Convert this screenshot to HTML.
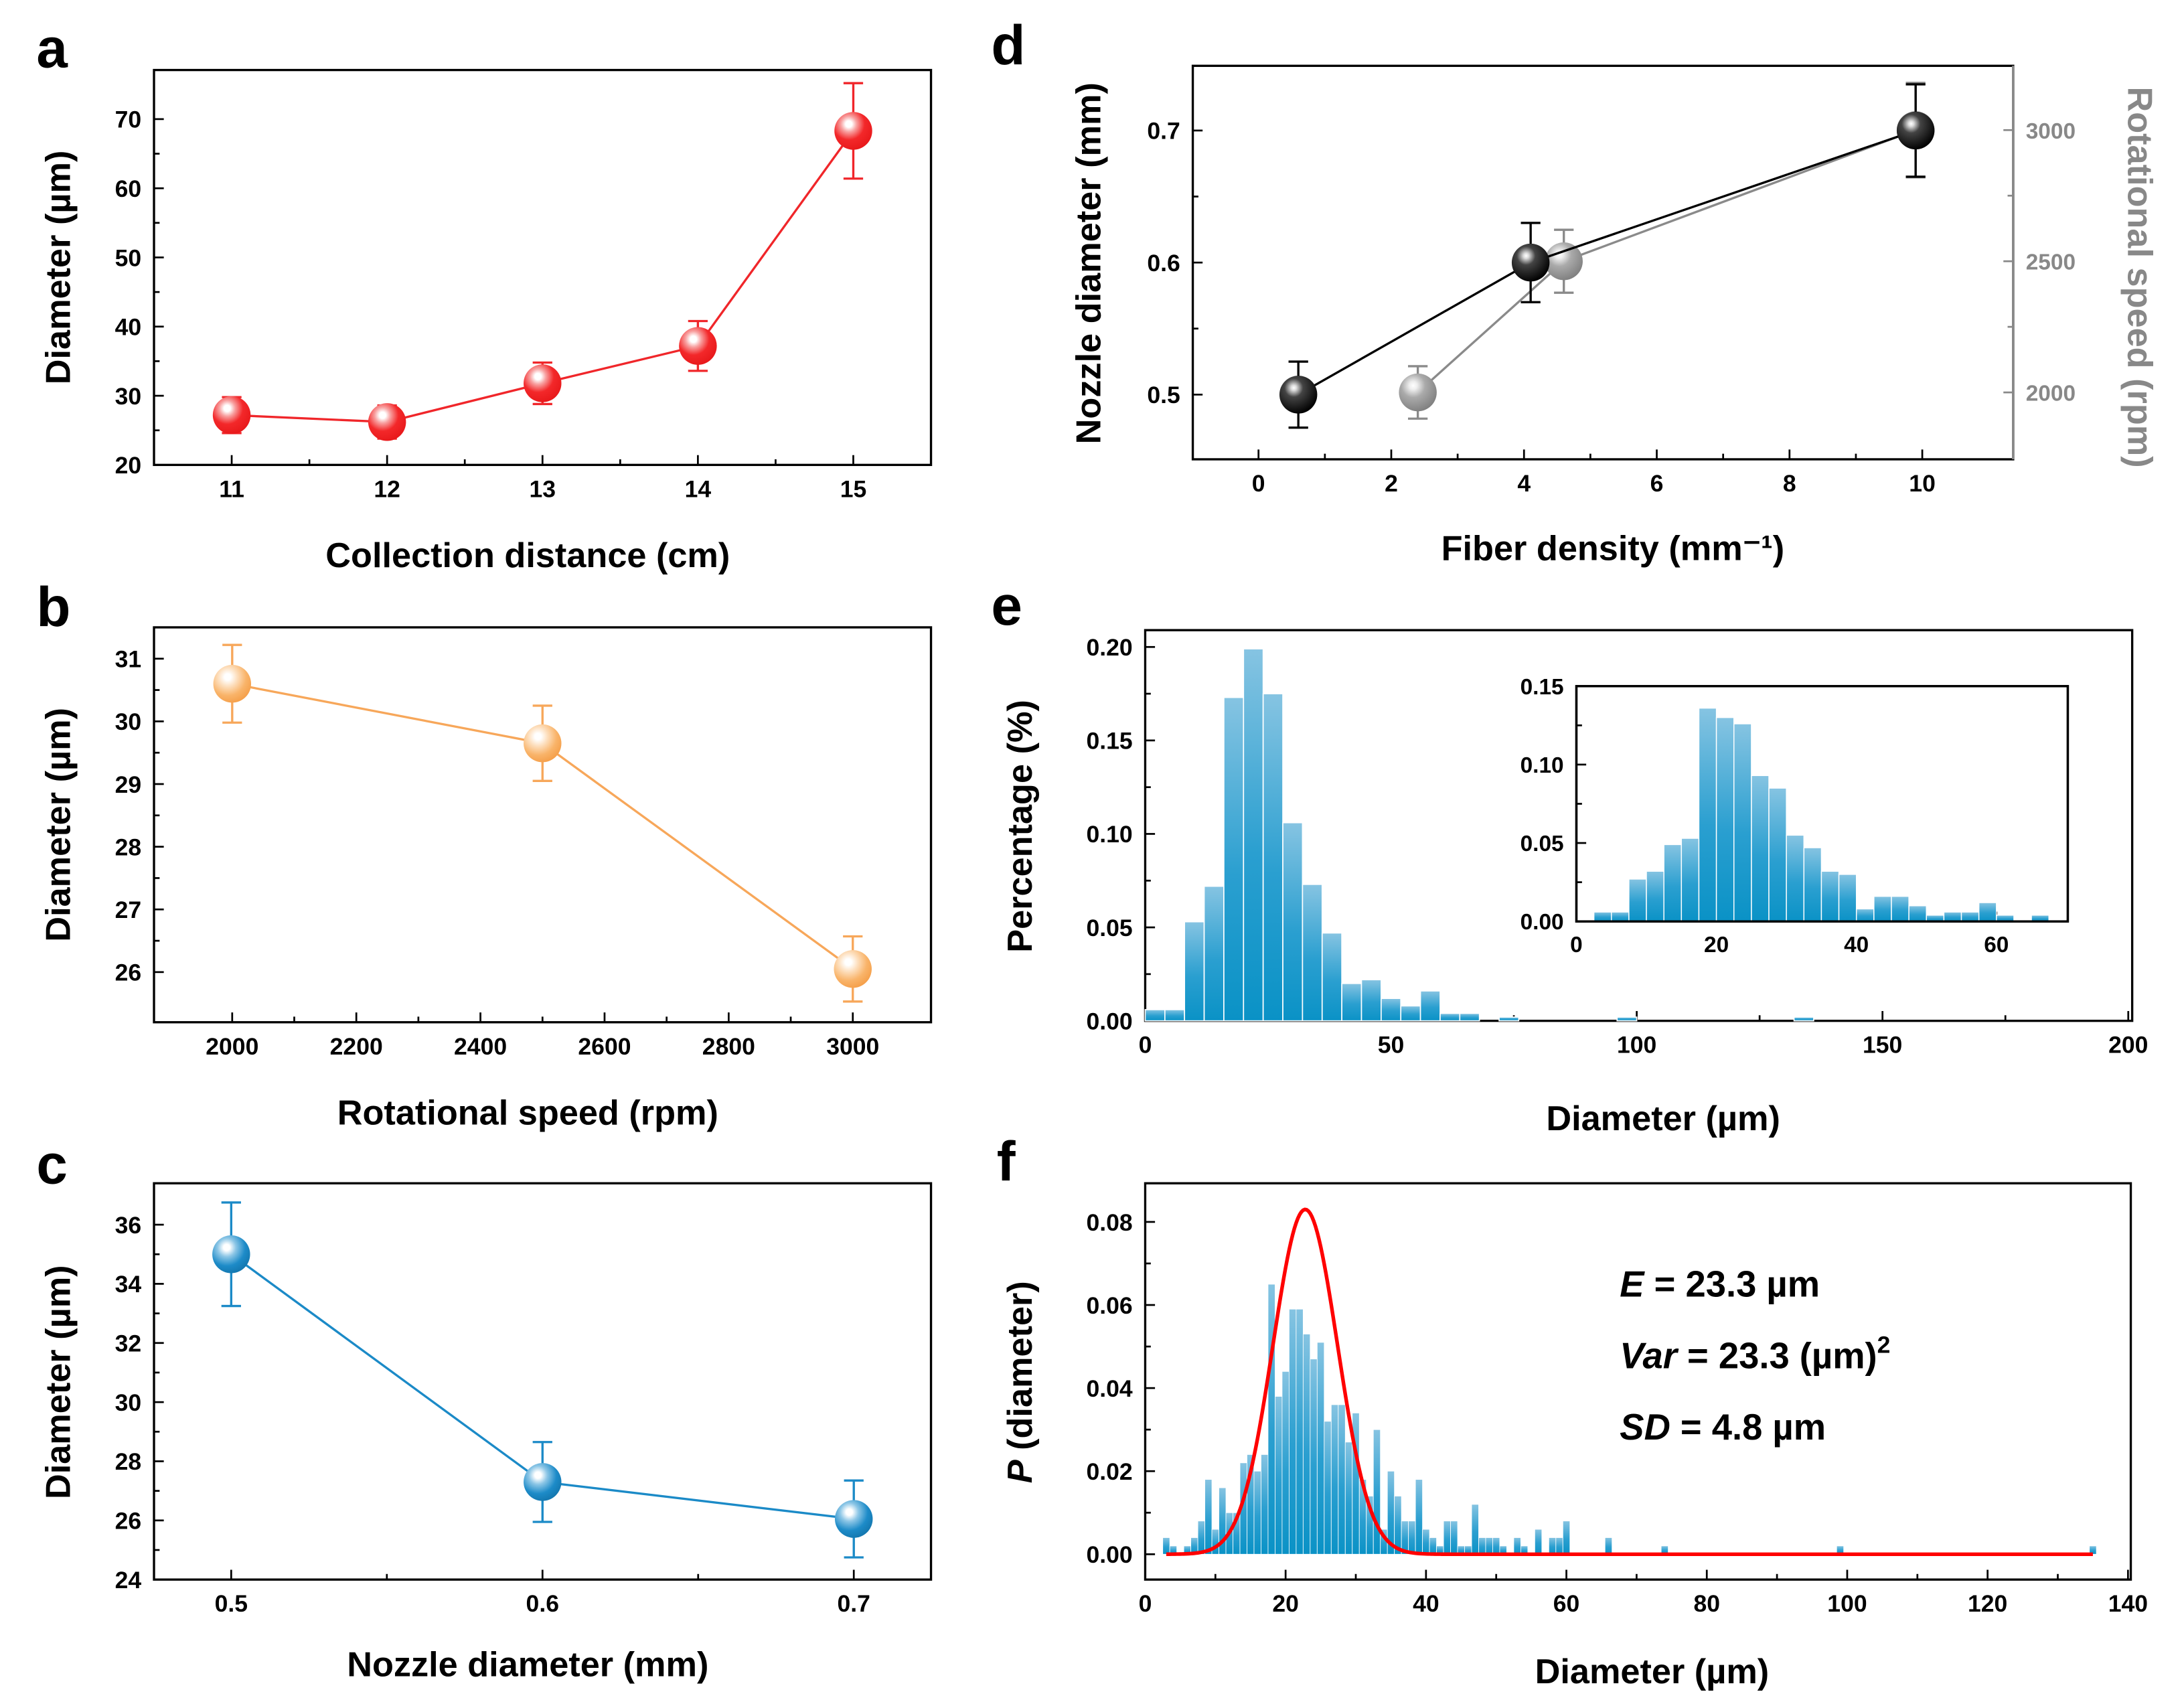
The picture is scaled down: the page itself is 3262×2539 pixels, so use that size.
<!DOCTYPE html>
<html><head><meta charset="utf-8"><style>
html,body{margin:0;padding:0;background:#fff;}
svg{display:block;font-family:"Liberation Sans",Arial,sans-serif;font-weight:bold;}
</style></head><body>
<svg id="fig" width="3262" height="2539" viewBox="0 0 1560 1214" preserveAspectRatio="none" xmlns="http://www.w3.org/2000/svg">
<defs>
<radialGradient id="gRed" cx="0.38" cy="0.32" r="0.7"><stop offset="0" stop-color="#fff"/><stop offset="0.12" stop-color="#fff"/><stop offset="0.3" stop-color="#f8a0a0"/><stop offset="0.6" stop-color="#f3282a"/><stop offset="1" stop-color="#e8191b"/></radialGradient>
<radialGradient id="gOra" cx="0.38" cy="0.32" r="0.7"><stop offset="0" stop-color="#fff"/><stop offset="0.12" stop-color="#fff"/><stop offset="0.35" stop-color="#fde0c0"/><stop offset="0.7" stop-color="#f9b46a"/><stop offset="1" stop-color="#f5a04b"/></radialGradient>
<radialGradient id="gBlu" cx="0.38" cy="0.32" r="0.7"><stop offset="0" stop-color="#fff"/><stop offset="0.12" stop-color="#fff"/><stop offset="0.35" stop-color="#8cc6e6"/><stop offset="0.7" stop-color="#1d8bc8"/><stop offset="1" stop-color="#1478b0"/></radialGradient>
<radialGradient id="gBlk" cx="0.38" cy="0.32" r="0.7"><stop offset="0" stop-color="#fff"/><stop offset="0.1" stop-color="#ddd"/><stop offset="0.35" stop-color="#444"/><stop offset="1" stop-color="#000"/></radialGradient>
<radialGradient id="gGry" cx="0.38" cy="0.32" r="0.7"><stop offset="0" stop-color="#fff"/><stop offset="0.15" stop-color="#eee"/><stop offset="0.45" stop-color="#aaa"/><stop offset="1" stop-color="#808080"/></radialGradient>
<linearGradient id="gBar" x1="0" y1="0" x2="0" y2="1"><stop offset="0" stop-color="#86c4e2"/><stop offset="0.55" stop-color="#2a9fd0"/><stop offset="1" stop-color="#0a92c6"/></linearGradient>
</defs>
</svg>
<script>
// ---- data ----
const aX = [11, 12, 13, 14, 15];
const aY = [27.2, 26.2, 31.8, 37.2, 68.3];
const aErr = [2.6, 2.4, 3.0, 3.6, 6.9];
const bX = [2000, 2500, 3000];
const bY = [30.6, 29.65, 26.05];
const bErr = [0.62, 0.6, 0.52];
const cX = [0.5, 0.6, 0.7];
const cY = [35.0, 27.3, 26.05];
const cErr = [1.75, 1.35, 1.3];
const dBlackX = [0.6, 4.1, 9.9];
const dBlackY = [0.5, 0.6, 0.7];
const dBlackErr = [0.025, 0.03, 0.035];
const dGrayX = [2.4, 4.6, 9.9];
const dGrayY = [2000, 2500, 3000];
const dGrayErr = [100, 120, 180];
const eBinStart = [0,4,8,12,16,20,24,28,32,36,40,44,48,52,56,60,64,72,96,132];
const ePct = [0.006,0.006,0.053,0.072,0.173,0.199,0.175,0.106,0.073,0.047,0.020,0.022,0.012,0.008,0.016,0.004,0.004,0.002,0.002,0.002];
const eBinW = 4;
const insetBinStart = [2.5,5,7.5,10,12.5,15,17.5,20,22.5,25,27.5,30,32.5,35,37.5,40,42.5,45,47.5,50,52.5,55,57.5,60,65];
const insetPct = [0.006,0.006,0.027,0.032,0.049,0.053,0.136,0.130,0.126,0.093,0.085,0.055,0.047,0.032,0.030,0.008,0.016,0.016,0.010,0.004,0.006,0.006,0.012,0.004,0.004];
const insetBinW = 2.5;
const fX = [3,4,6,7,8,9,10,11,12,13,14,15,16,17,18,19,20,21,22,23,24,25,26,27,28,29,30,31,32,33,34,35,36,37,38,39,40,41,42,43,44,45,46,47,48,49,50,51,53,54,56,58,59,60,66,74,99,135];
const fP = [0.004,0.002,0.002,0.004,0.008,0.018,0.006,0.016,0.010,0.010,0.022,0.024,0.020,0.024,0.065,0.038,0.044,0.059,0.059,0.053,0.047,0.051,0.032,0.036,0.036,0.027,0.034,0.018,0.014,0.030,0.006,0.020,0.014,0.008,0.008,0.018,0.006,0.004,0.002,0.008,0.008,0.002,0.002,0.012,0.004,0.004,0.004,0.002,0.004,0.002,0.006,0.004,0.004,0.008,0.004,0.002,0.002,0.002];
const fitMean = [22.8];
const fitSD = [4.6];
const fitPeak = [0.083];

const NS = 'http://www.w3.org/2000/svg';
const svg = document.getElementById('fig');
function mk(parent, tag, attrs, name, txt) {
  const el = document.createElementNS(NS, tag);
  for (const k in attrs) el.setAttribute(k, attrs[k]);
  
  
  if (txt !== undefined) el.textContent = txt;
  parent.appendChild(el);
  return el;
}
function lin(d0, d1, r0, r1) { return v => r0 + (v - d0) * (r1 - r0) / (d1 - d0); }
function fmt(v, dec) { return v.toFixed(dec); }

function axes(g, c) {
  const sx = lin(c.xmin, c.xmax, c.x0, c.x1), sy = lin(c.ymin, c.ymax, c.y1, c.y0);
  mk(g, 'rect', {x:c.x0, y:c.y0, width:c.x1-c.x0, height:c.y1-c.y0, fill:c.bg||'none', stroke:'#000', 'stroke-width':1.6}, 'plot-frame');
  const fs = c.fs || 17;
  for (let v = c.xt0; v <= c.xt1 + 1e-9; v += c.xstep/2) {
    const major = Math.abs(Math.round((v - c.xt0)/c.xstep)*c.xstep - (v - c.xt0)) < 1e-9;
    const x = sx(v);
    mk(g, 'line', {x1:x, x2:x, y1:c.y1, y2:c.y1-(major?7:4), stroke:'#000', 'stroke-width':1.3}, 'x-tick');
    if (major) mk(g, 'text', {x:x, y:c.y1+fs+6, 'font-size':fs, 'text-anchor':'middle'}, 'x-tick-label', fmt(v, c.xdec||0));
  }
  for (let v = c.yt0; v <= c.yt1 + 1e-9; v += c.ystep/2) {
    const major = Math.abs(Math.round((v - c.yt0)/c.ystep)*c.ystep - (v - c.yt0)) < 1e-9;
    const y = sy(v);
    mk(g, 'line', {x1:c.x0, x2:c.x0+(major?7:4), y1:y, y2:y, stroke:'#000', 'stroke-width':1.3}, 'y-tick');
    if (major) mk(g, 'text', {x:c.x0-9, y:y+fs*0.36, 'font-size':fs, 'text-anchor':'end'}, 'y-tick-label', fmt(v, c.ydec||0));
  }
  return {sx, sy};
}
function series(g, xs, ys, es, sx, sy, color, grad, name) {
  let d = xs.map((x,i) => (i?'L':'M') + sx(x) + ' ' + sy(ys[i])).join(' ');
  mk(g, 'path', {d:d, fill:'none', stroke:color, 'stroke-width':1.6}, name + '-line');
  xs.forEach((x,i) => {
    const cx = sx(x), t = sy(ys[i]+es[i]), b = sy(ys[i]-es[i]);
    mk(g, 'path', {d:`M${cx} ${t}V${b}M${cx-7} ${t}H${cx+7}M${cx-7} ${b}H${cx+7}`, stroke:color, 'stroke-width':1.6, fill:'none'}, name + '-error-bar');
  });
  xs.forEach((x,i) => {
    mk(g, 'circle', {cx:sx(x), cy:sy(ys[i]), r:13.5, fill:'url(#'+grad+')'}, name + '-marker');
  });
}
function ylabel(g, x, y, txt, name, color) {
  mk(g, 'text', {x:x, y:y, 'font-size':25, 'text-anchor':'middle', transform:`rotate(-90 ${x} ${y})`, fill:color||'#000'}, name, txt);
}

// ---- panel a ----
let g = mk(svg, 'g', {}, 'panel-a');
mk(g, 'text', {x:26, y:48, 'font-size':40}, 'panel-label-a', 'a');
let A = axes(g, {x0:110,x1:665,y0:50,y1:332,xmin:10.5,xmax:15.5,ymin:20,ymax:77.1,xt0:11,xt1:15,xstep:1,yt0:20,yt1:70,ystep:10});
series(g, aX, aY, aErr, A.sx, A.sy, '#f0262a', 'gRed', 'diameter-series-a');
mk(g, 'text', {x:377, y:405, 'font-size':25, 'text-anchor':'middle'}, 'x-axis-title-a', 'Collection distance (cm)');
ylabel(g, 50, 191, 'Diameter (µm)', 'y-axis-title-a');

// ---- panel b ----
g = mk(svg, 'g', {}, 'panel-b');
mk(g, 'text', {x:26, y:447, 'font-size':40}, 'panel-label-b', 'b');
let B = axes(g, {x0:110,x1:665,y0:448,y1:730,xmin:1874,xmax:3126,ymin:25.2,ymax:31.5,xt0:2000,xt1:3000,xstep:200,yt0:26,yt1:31,ystep:1});
series(g, bX, bY, bErr, B.sx, B.sy, '#f7a75a', 'gOra', 'diameter-series-b');
mk(g, 'text', {x:377, y:803, 'font-size':25, 'text-anchor':'middle'}, 'x-axis-title-b', 'Rotational speed (rpm)');
ylabel(g, 50, 589, 'Diameter (µm)', 'y-axis-title-b');

// ---- panel c ----
g = mk(svg, 'g', {}, 'panel-c');
mk(g, 'text', {x:26, y:845, 'font-size':40}, 'panel-label-c', 'c');
let C = axes(g, {x0:110,x1:665,y0:845,y1:1128,xmin:0.4752,xmax:0.7248,ymin:24,ymax:37.4,xt0:0.5,xt1:0.7,xstep:0.1,xdec:1,yt0:24,yt1:36,ystep:2});
series(g, cX, cY, cErr, C.sx, C.sy, '#1b8ac7', 'gBlu', 'diameter-series-c');
mk(g, 'text', {x:377, y:1197, 'font-size':25, 'text-anchor':'middle'}, 'x-axis-title-c', 'Nozzle diameter (mm)');
ylabel(g, 50, 987, 'Diameter (µm)', 'y-axis-title-c');

// ---- panel d ----
g = mk(svg, 'g', {}, 'panel-d');
mk(g, 'text', {x:708, y:46, 'font-size':40}, 'panel-label-d', 'd');
let D = axes(g, {x0:852,x1:1438,y0:47,y1:328,xmin:-0.99,xmax:11.37,ymin:0.451,ymax:0.749,xt0:0,xt1:10,xstep:2,yt0:0.5,yt1:0.7,ystep:0.1,ydec:1});
mk(g, 'line', {x1:1438,x2:1438,y1:47,y2:328,stroke:'#888','stroke-width':1.8}, 'right-axis-spine');
const syR = lin(1745, 3245, 328, 47);
for (let v = 2000; v <= 3000; v += 250) {
  const major = v % 500 === 0, y = syR(v);
  mk(g, 'line', {x1:1438, x2:1438-(major?7:4), y1:y, y2:y, stroke:'#888', 'stroke-width':1.3}, 'right-y-tick');
  if (major) mk(g, 'text', {x:1447, y:y+6, 'font-size':16, fill:'#888'}, 'right-y-tick-label', String(v));
}
series(g, dGrayX, dGrayY, dGrayErr, D.sx, syR, '#8a8a8a', 'gGry', 'rotational-speed-series');
series(g, dBlackX, dBlackY, dBlackErr, D.sx, D.sy, '#000', 'gBlk', 'nozzle-diameter-series');
mk(g, 'text', {x:1152, y:400, 'font-size':25, 'text-anchor':'middle'}, 'x-axis-title-d', 'Fiber density (mm⁻¹)');
ylabel(g, 786, 188, 'Nozzle diameter (mm)', 'y-axis-title-d-left');
mk(g, 'text', {x:1520, y:198, 'font-size':25, 'text-anchor':'middle', fill:'#888', transform:'rotate(90 1520 198)'}, 'y-axis-title-d-right', 'Rotational speed (rpm)');

// ---- panel e ----
g = mk(svg, 'g', {}, 'panel-e');
mk(g, 'text', {x:708, y:446, 'font-size':40}, 'panel-label-e', 'e');
let E = axes(g, {x0:818,x1:1523,y0:450,y1:729,xmin:0,xmax:200.8,ymin:0,ymax:0.209,xt0:0,xt1:200,xstep:50,yt0:0,yt1:0.2,ystep:0.05,ydec:2});
eBinStart.forEach((s,i) => {
  mk(g, 'rect', {x:E.sx(s), y:E.sy(ePct[i]), width:E.sx(s+eBinW)-E.sx(s), height:E.sy(0)-E.sy(ePct[i]), fill:'url(#gBar)', stroke:'#fff','stroke-width':0.8}, 'histogram-bar');
});
let I = axes(g, {x0:1126,x1:1477,y0:490,y1:658,xmin:0,xmax:70.2,ymin:0,ymax:0.15,xt0:0,xt1:60,xstep:20,yt0:0,yt1:0.15,ystep:0.05,ydec:2,bg:'#fff',fs:16});
insetBinStart.forEach((s,i) => {
  mk(g, 'rect', {x:I.sx(s), y:I.sy(insetPct[i]), width:I.sx(s+insetBinW)-I.sx(s), height:I.sy(0)-I.sy(insetPct[i]), fill:'url(#gBar)', stroke:'#fff','stroke-width':0.7}, 'inset-histogram-bar');
});
mk(g, 'rect', {x:1126,y:490,width:351,height:168,fill:'none',stroke:'#000','stroke-width':1.6}, 'inset-frame');
mk(g, 'text', {x:1188, y:807, 'font-size':25, 'text-anchor':'middle'}, 'x-axis-title-e', 'Diameter (µm)');
ylabel(g, 737, 590, 'Percentage (%)', 'y-axis-title-e');

// ---- panel f ----
g = mk(svg, 'g', {}, 'panel-f');
mk(g, 'text', {x:712, y:843, 'font-size':40}, 'panel-label-f', 'f');
let F = axes(g, {x0:818,x1:1522,y0:845,y1:1128,xmin:0,xmax:140.4,ymin:-0.0061,ymax:0.0893,xt0:0,xt1:140,xstep:20,yt0:0,yt1:0.08,ystep:0.02,ydec:2});
fX.forEach((x,i) => {
  mk(g, 'rect', {x:F.sx(x-0.5), y:F.sy(fP[i]), width:F.sx(1)-F.sx(0), height:F.sy(0)-F.sy(fP[i]), fill:'url(#gBar)', stroke:'#fff','stroke-width':0.4}, 'probability-bar');
});
let pd = '';
for (let x = 3; x <= 135; x += 0.25) {
  const p = fitPeak[0]*Math.exp(-0.5*Math.pow((x-fitMean[0])/fitSD[0],2));
  pd += (pd?'L':'M') + F.sx(x).toFixed(2) + ' ' + F.sy(p).toFixed(2);
}
mk(g, 'path', {d:pd, fill:'none', stroke:'#f00', 'stroke-width':2.6}, 'normal-fit-curve');
let t = mk(g, 'text', {x:1157, y:926, 'font-size':26}, 'stat-mean');
t.innerHTML = '<tspan font-style="italic">E</tspan> = 23.3 µm';
t = mk(g, 'text', {x:1157, y:977, 'font-size':26}, 'stat-variance');
t.innerHTML = '<tspan font-style="italic">Var</tspan> = 23.3 (µm)<tspan font-size="17" dy="-11">2</tspan>';
t = mk(g, 'text', {x:1157, y:1028, 'font-size':26}, 'stat-sd');
t.innerHTML = '<tspan font-style="italic">SD</tspan> = 4.8 µm';
mk(g, 'text', {x:1180, y:1202, 'font-size':25, 'text-anchor':'middle'}, 'x-axis-title-f', 'Diameter (µm)');
t = mk(g, 'text', {x:737, y:987, 'font-size':25, 'text-anchor':'middle', transform:'rotate(-90 737 987)'}, 'y-axis-title-f');
t.innerHTML = '<tspan font-style="italic">P</tspan> (diameter)';
</script>
</body></html>
